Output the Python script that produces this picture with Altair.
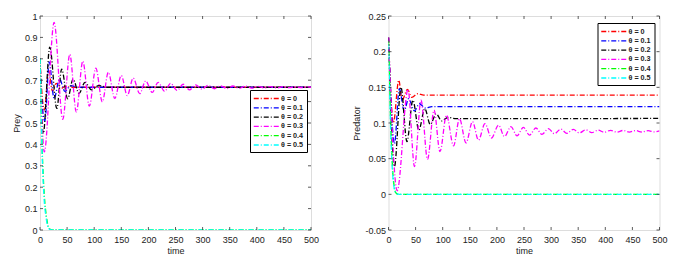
import altair as alt
import pandas as pd

W, H = 271, 214
FONT = "Liberation Sans"

labels = ["θ = 0", "θ = 0.1", "θ = 0.2", "θ = 0.3", "θ = 0.4", "θ = 0.5"]
colors = ["#ff0000", "#0000ff", "#000000", "#ff00ff", "#00ff00", "#00ffff"]

# ---------------- Prey panel data ----------------
prey_t0 = [0, 3, 8, 16, 23, 30, 38, 47, 60, 500]
prey_v0 = [0.8, 0.66, 0.56, 0.745, 0.648, 0.685, 0.66, 0.671, 0.667, 0.667]

prey_t1 = [0, 3, 9, 17, 26, 36, 46, 57, 70, 500]
prey_v1 = [0.8, 0.62, 0.51, 0.785, 0.614, 0.705, 0.648, 0.675, 0.667, 0.667]

prey_t2 = [0, 3, 6, 18, 31, 40, 51, 61, 72, 83, 95, 108, 125, 500]
prey_v2 = [0.8, 0.55, 0.45, 0.855, 0.568, 0.752, 0.613, 0.705, 0.638, 0.69, 0.655, 0.675, 0.667, 0.667]

prey_t3 = [0, 8, 26, 42, 55, 67, 79, 91, 103, 115, 126, 138, 150, 161, 172, 184,
           195, 207, 218, 230, 241, 253, 264, 276, 287, 299, 310, 322, 333, 345,
           356, 368, 379, 391, 402, 414, 425, 437, 448, 460, 471, 483, 494, 500]
prey_v3 = [0.8, 0.365, 0.97, 0.517, 0.821, 0.551, 0.789, 0.579, 0.756, 0.599, 0.737,
           0.615, 0.722, 0.628, 0.71, 0.637, 0.697, 0.643, 0.69, 0.648, 0.685, 0.652,
           0.681, 0.655, 0.678, 0.658, 0.676, 0.66, 0.674, 0.661, 0.673, 0.662, 0.672,
           0.663, 0.671, 0.664, 0.670, 0.664, 0.670, 0.665, 0.669, 0.665, 0.669, 0.667]

prey_t4 = [0, 1, 2, 3, 4, 5, 6, 8, 10, 12, 14, 16, 18, 22, 30, 500]
prey_v4 = [0.8, 0.72, 0.6, 0.48, 0.38, 0.31, 0.25, 0.16, 0.1, 0.06, 0.03, 0.013, 0.005, 0.001, 0, 0]

prey_t5 = [0, 1, 2, 3, 4, 5, 6, 8, 10, 12, 14, 16, 20, 28, 500]
prey_v5 = [0.8, 0.7, 0.57, 0.45, 0.35, 0.28, 0.22, 0.13, 0.08, 0.045, 0.02, 0.008, 0.001, 0, 0]

# ---------------- Predator panel data ----------------
pred_t0 = [0, 9, 19, 25, 35, 43, 54, 65, 500]
pred_v0 = [0.22, 0.1, 0.16, 0.132, 0.147, 0.136, 0.141, 0.139, 0.139]

pred_t1 = [0, 11, 20, 29, 37, 48, 57, 68, 80, 500]
pred_v1 = [0.22, 0.071, 0.148, 0.117, 0.134, 0.117, 0.127, 0.121, 0.123, 0.123]

pred_t2 = [0, 11, 23, 34, 45, 56, 67, 77, 88, 98, 110, 125, 500]
pred_v2 = [0.22, 0.039, 0.15, 0.074, 0.132, 0.09, 0.12, 0.098, 0.113, 0.103, 0.108, 0.106, 0.1064]

pred_t3 = [0, 16, 36, 48, 60, 72, 84, 95, 107, 120, 131, 143, 155, 166, 178, 190,
           203, 214, 226, 237, 249, 260, 272, 283, 295, 306, 318, 329, 341, 352,
           364, 375, 387, 398, 410, 421, 433, 444, 456, 467, 479, 490, 500]
pred_v3 = [0.22, 0.005, 0.147, 0.039, 0.132, 0.049, 0.118, 0.06, 0.111, 0.068, 0.106,
           0.072, 0.102, 0.076, 0.099, 0.079, 0.097, 0.081, 0.095, 0.082, 0.094, 0.083,
           0.093, 0.084, 0.092, 0.085, 0.0915, 0.0855, 0.091, 0.086, 0.0905, 0.0865,
           0.090, 0.087, 0.0898, 0.0872, 0.0896, 0.0873, 0.0894, 0.0874, 0.0893, 0.0875, 0.089]

pred_t4 = [0, 1, 2, 3, 4, 6, 8, 10, 12, 15, 20, 500]
pred_v4 = [0.215, 0.19, 0.16, 0.13, 0.1, 0.06, 0.03, 0.014, 0.005, 0.001, 0, 0]

pred_t5 = [0, 1, 2, 3, 4, 6, 8, 10, 12, 15, 20, 500]
pred_v5 = [0.21, 0.18, 0.15, 0.12, 0.09, 0.05, 0.025, 0.011, 0.004, 0.001, 0, 0]

x_ticks = [0, 50, 100, 150, 200, 250, 300, 350, 400, 450, 500]
prey_ticks = [0, 0.1, 0.2, 0.3, 0.4, 0.5, 0.6, 0.7, 0.8, 0.9, 1]
pred_ticks = [-0.05, 0, 0.05, 0.1, 0.15, 0.2, 0.25]


def make_df(ts, vs):
    rows = []
    for lab, t, v in zip(labels, ts, vs):
        for a, b in zip(t, v):
            rows.append({"theta": lab, "t": a, "v": b})
    return pd.DataFrame(rows)


label_expr = "datum.value < 0 ? '-' + format(-datum.value, '~g') : format(datum.value, '~g')"


def panel(df, ytitle, ydomain, yticks, lx, ly, extent, title_pad):
    xs = alt.Scale(domain=[0, 500], nice=False)
    ys = alt.Scale(domain=ydomain, nice=False, zero=False)
    x_axis = alt.Axis(values=x_ticks, ticks=False, domain=False, grid=False,
                      labelPadding=5, labelFontSize=9, titleFontSize=9,
                      labelFont=FONT, titleFont=FONT, titleFontWeight="normal",
                      titlePadding=2, labelColor="#222", titleColor="#222",
                      labelFlush=False, labelOverlap=False)
    y_axis = alt.Axis(values=yticks, ticks=False, domain=False, grid=False,
                      labelPadding=3, labelFontSize=9, titleFontSize=9,
                      labelFont=FONT, titleFont=FONT, titleFontWeight="normal",
                      labelExpr=label_expr, minExtent=extent, maxExtent=extent,
                      titlePadding=title_pad, labelColor="#222", titleColor="#222",
                      labelOverlap=False, labelFlush=False)
    xe = alt.X("t:Q", scale=xs, title="time", axis=x_axis)
    ye = alt.Y("v:Q", scale=ys, title=ytitle, axis=y_axis)
    lines = alt.Chart(df).mark_line(
        strokeWidth=1.3, strokeDash=[5, 2, 1, 2], interpolate="monotone", clip=True
    ).encode(
        x=xe, y=ye,
        color=alt.Color("theta:N", scale=alt.Scale(domain=labels, range=colors),
                        legend=alt.Legend(orient="none", legendX=lx, legendY=ly, title=None,
                                          symbolType="M-1,0L4.3,0", symbolSize=90,
                                          symbolStrokeWidth=1.3, symbolDash=[5, 2, 1, 2],
                                          labelFont=FONT, labelFontSize=7.2,
                                          labelFontWeight="bold", labelColor="#222",
                                          strokeColor="black", fillColor="white",
                                          padding=3, rowPadding=0.3, labelOffset=17)),
    )
    xt = pd.DataFrame({"t": x_ticks})
    yt = pd.DataFrame({"v": yticks})
    tick_style = dict(color="#333", strokeWidth=0.8)
    xb = alt.Chart(xt).mark_rule(**tick_style).encode(x=xe, y=alt.value(H), y2=alt.value(H - 3))
    xtp = alt.Chart(xt).mark_rule(**tick_style).encode(x=xe, y=alt.value(0), y2=alt.value(3))
    yl = alt.Chart(yt).mark_rule(**tick_style).encode(y=ye, x=alt.value(0), x2=alt.value(3))
    yr = alt.Chart(yt).mark_rule(**tick_style).encode(y=ye, x=alt.value(W), x2=alt.value(W - 3))
    return alt.layer(lines, xb, xtp, yl, yr).properties(width=W, height=H)


left = panel(make_df([prey_t0, prey_t1, prey_t2, prey_t3, prey_t4, prey_t5],
                     [prey_v0, prey_v1, prey_v2, prey_v3, prey_v4, prey_v5]),
             "Prey", [0, 1], prey_ticks, 210, 74, 16, 2.5)
right = panel(make_df([pred_t0, pred_t1, pred_t2, pred_t3, pred_t4, pred_t5],
                      [pred_v0, pred_v1, pred_v2, pred_v3, pred_v4, pred_v5]),
              "Predator", [-0.05, 0.25], pred_ticks, 209, 7, 20, 6.7)

chart = alt.hconcat(left, right, spacing=31.5).resolve_legend(color="independent").properties(
    padding={"left": 4, "top": 3, "right": 0, "bottom": 0}
).configure_view(stroke="#222", strokeWidth=0.9).configure(background="white")

chart.save("out.html", embed_options={"renderer": "svg", "actions": False})
